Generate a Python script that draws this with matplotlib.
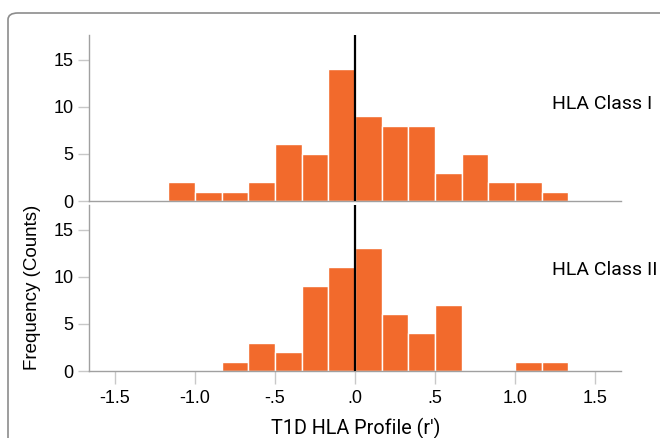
import matplotlib
matplotlib.use("Agg")
import matplotlib.pyplot as plt
import numpy as np
from matplotlib.patches import FancyBboxPatch

# histogram bins (left edges, in units of r'), width 1/6
bin_lefts = np.arange(-7, 8) / 6
bin_width = 1 / 6
class_i_counts = [2, 1, 1, 2, 6, 5, 14, 9, 8, 8, 3, 5, 2, 2, 1]
class_ii_counts = [0, 0, 1, 3, 2, 9, 11, 13, 6, 4, 7, 0, 0, 1, 1]

panel_names = ["HLA Class I", "HLA Class II"]
x_ticks = [-1.5, -1.0, -0.5, 0.0, 0.5, 1.0, 1.5]
x_tick_labels = ["-1.5", "-1.0", "-.5", ".0", ".5", "1.0", "1.5"]
y_ticks = [0, 5, 10, 15]

bar_color = "#f26a2c"
spine_color = "#a0a0a0"
tick_font = "Liberation Sans"
label_font = "Roboto"

fig = plt.figure(figsize=(6.6, 4.38), dpi=100)

# rounded frame around the figure
frame = FancyBboxPatch((8 / 660, -0.1), 1.2, 1.1 - 13 / 438,
                       boxstyle="round,pad=0,rounding_size=0.015",
                       transform=fig.transFigure, facecolor="none",
                       edgecolor="#8c8c8c", linewidth=1.2, clip_on=False)
fig.patches.append(frame)

left = 89 / 660
width = (621 - 89) / 660
height = 166 / 438
ax_top = fig.add_axes([left, 1 - 201 / 438, width, height])
ax_bot = fig.add_axes([left, 1 - 371 / 438, width, height])

for ax, counts, name, ytxt in [(ax_top, class_i_counts, panel_names[0], 104),
                                (ax_bot, class_ii_counts, panel_names[1], 270)]:
    counts = np.array(counts)
    keep = counts > 0
    ax.bar(bin_lefts[keep], counts[keep], width=bin_width, align="edge",
           color=bar_color, edgecolor="white", linewidth=1.0, zorder=2)
    ax.axvline(0, color="black", linewidth=1.6, zorder=3)
    ax.set_xlim(-1.6625, 1.6625)
    ax.set_ylim(0, 17.6)
    ax.set_yticks(y_ticks)
    ax.set_yticklabels([str(v) for v in y_ticks], fontsize=13, family=tick_font)
    for s in ["top", "right"]:
        ax.spines[s].set_visible(False)
    for s in ["left", "bottom"]:
        ax.spines[s].set_color(spine_color)
        ax.spines[s].set_linewidth(1.0)
    ax.tick_params(axis="y", direction="out", length=8, width=1,
                   color="#c8c8c8", pad=3)
    ax.patch.set_visible(False)
    fig.text(552 / 660, 1 - ytxt / 438, name, fontsize=14, family=label_font,
             ha="left", va="center")

ax_top.tick_params(axis="x", bottom=False, labelbottom=False)
ax_bot.set_xticks(x_ticks)
ax_bot.set_xticklabels(x_tick_labels, fontsize=13, family=tick_font)
ax_bot.tick_params(axis="x", direction="out", length=9, width=1,
                   color="#c8c8c8", pad=5)

fig.text(356 / 660, 1 - 428 / 438, "T1D HLA Profile (r')", fontsize=14.2,
         family=label_font, ha="center", va="center")
fig.text(33 / 660, 1 - 287 / 438, "Frequency (Counts)", fontsize=13.5,
         family=tick_font, ha="center", va="center", rotation=90)

fig.savefig("out.png", dpi=100)
